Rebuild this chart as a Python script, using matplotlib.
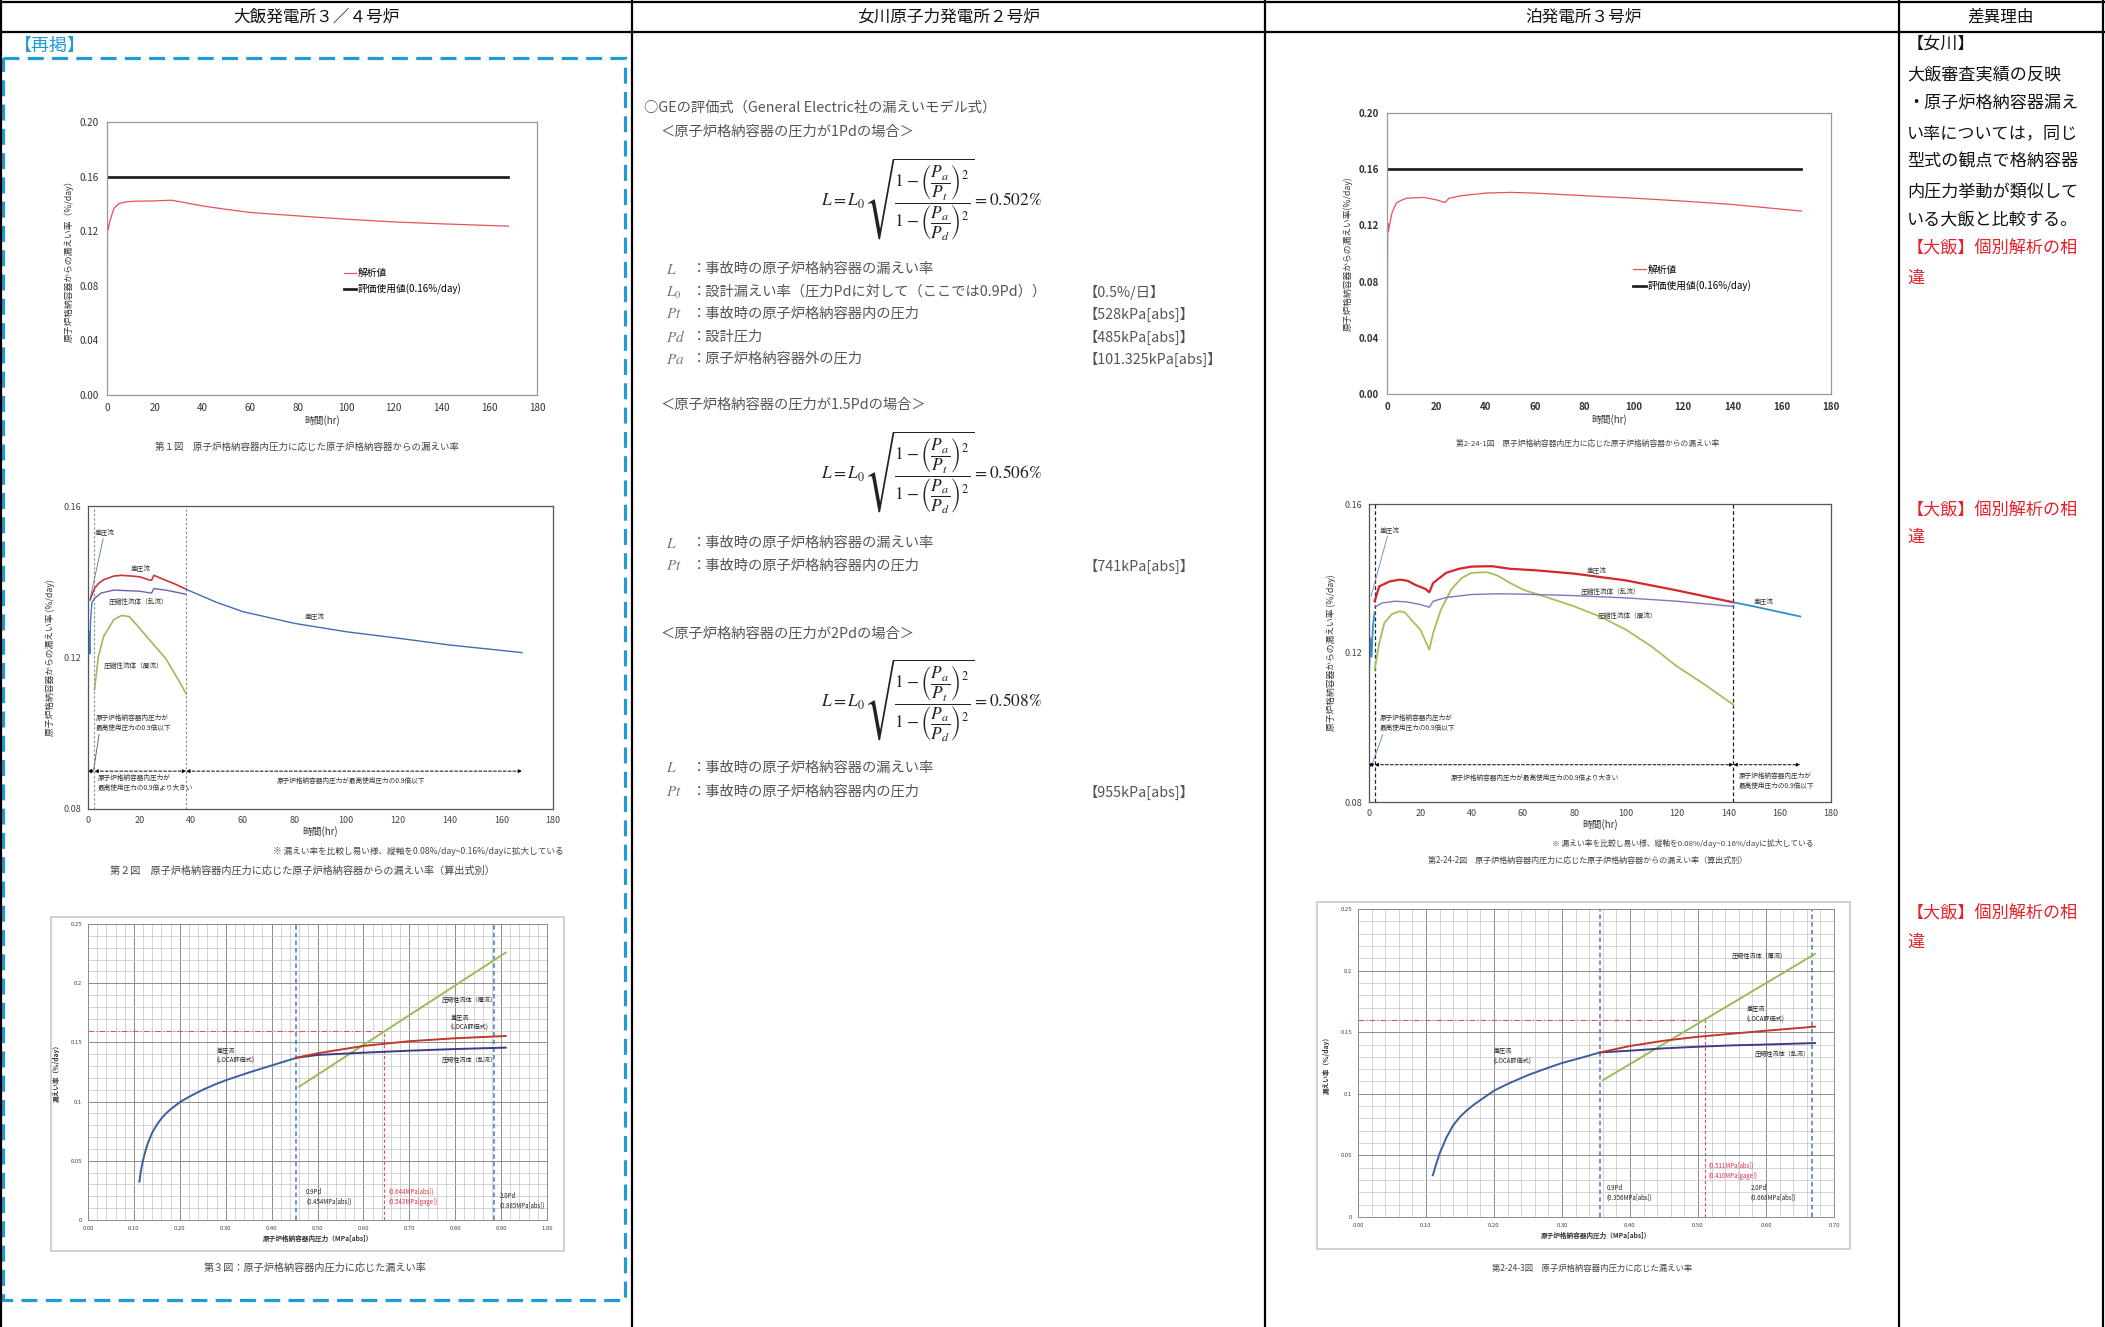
import numpy as np
import matplotlib
matplotlib.use("Agg")
import matplotlib.pyplot as plt
from matplotlib.patches import Rectangle

plt.rcParams['font.family'] = ['Noto Sans CJK JP', 'DejaVu Sans']
plt.rcParams['mathtext.fontset'] = 'stix'
plt.rcParams['axes.unicode_minus'] = False

# ---------------------------------------------------------------- data
headers = ['大飯発電所３／４号炉', '女川原子力発電所２号炉', '泊発電所３号炉', '差異理由']

# limit line (評価使用値)
limit_t = [0, 168]
limit_v = [0.16, 0.16]

# Ohi fig.1  analysis value vs time
ohi1_t = [0, 0.2, 0.5, 1.0, 2, 3, 5, 8, 12, 20, 27, 33, 40, 50, 60, 80, 100, 120, 140, 168]
ohi1_v = [0.0, 0.125, 0.121, 0.126, 0.132, 0.137, 0.1402, 0.1415, 0.142, 0.1422, 0.1427,
          0.1408, 0.1385, 0.136, 0.1337, 0.1312, 0.1288, 0.1268, 0.1254, 0.1237]

# Tomari fig.1
tom1_t = [0, 0.3, 0.6, 1, 2, 3, 4, 6, 8, 15, 20, 23.5, 25, 30, 40, 50, 60, 80, 100, 120, 140, 168]
tom1_v = [0.0, 0.1216, 0.1157, 0.120, 0.1287, 0.133, 0.1363, 0.138, 0.1394, 0.1399, 0.1382,
          0.1363, 0.1392, 0.1411, 0.143, 0.1435, 0.143, 0.1411, 0.1394, 0.1373, 0.1349, 0.1302]

# Ohi fig.2  leak rate by formula
ohi2_blue_a_t = [0, 0.15, 0.4, 0.7, 1.0, 1.5, 2.5]
ohi2_blue_a_v = [0.0, 0.122, 0.127, 0.121, 0.130, 0.1345, 0.1355]
ohi2_blue_b_t = [38, 50, 60, 80, 100, 120, 140, 168]
ohi2_blue_b_v = [0.138, 0.1345, 0.1321, 0.129, 0.1268, 0.1251, 0.1233, 0.1213]
ohi2_red_t = [0.8, 1.5, 2.5, 4, 6, 10, 13, 17, 20, 24, 24.6, 25.5, 30, 34, 38]
ohi2_red_v = [0.1352, 0.1365, 0.1382, 0.1395, 0.1405, 0.1415, 0.1417, 0.1415, 0.1413, 0.1404,
              0.1404, 0.1417, 0.1404, 0.1393, 0.138]
ohi2_pur_t = [2.5, 5, 10, 20, 24.6, 25.5, 30, 38]
ohi2_pur_v = [0.1356, 0.137, 0.1378, 0.1375, 0.137, 0.1382, 0.1378, 0.1367]
ohi2_grn_t = [2.5, 4, 6, 10, 13, 16, 20, 25, 30, 35, 38]
ohi2_grn_v = [0.1114, 0.1202, 0.1255, 0.130, 0.1311, 0.1308, 0.1277, 0.1237, 0.1198, 0.1141, 0.1104]
ohi2_phase = [0, 2.5, 38, 168]

# Tomari fig.2
tom2_blue_a_t = [0.0, 0.5, 1.0, 1.5, 2.2]
tom2_blue_a_v = [0.114, 0.124, 0.119, 0.127, 0.131]
tom2_blue_b_t = [142, 150, 160, 168]
tom2_blue_b_v = [0.1336, 0.1325, 0.131, 0.1298]
tom2_red_t = [2.2, 4, 8, 12, 15, 18, 22, 23.5, 25, 30, 35, 40, 48, 55, 65, 80, 100, 120, 142]
tom2_red_v = [0.1339, 0.1379, 0.1392, 0.1397, 0.1394, 0.1383, 0.1372, 0.1363, 0.1388, 0.1415,
              0.1426, 0.1432, 0.1433, 0.1426, 0.1422, 0.1413, 0.1395, 0.1368, 0.1336]
tom2_pur_t = [2.2, 5, 10, 15, 20, 23.5, 25, 30, 40, 50, 60, 80, 100, 120, 142]
tom2_pur_v = [0.1323, 0.1334, 0.1339, 0.1337, 0.1330, 0.1323, 0.1339, 0.1349, 0.1357, 0.1359,
              0.1358, 0.1354, 0.1348, 0.1339, 0.1325]
tom2_grn_t = [2.2, 4, 6, 9, 12, 14, 17, 20, 23.5, 25, 28, 32, 36, 40, 46, 50, 55, 60, 70, 80,
              90, 100, 110, 120, 130, 142]
tom2_grn_v = [0.1155, 0.1227, 0.1281, 0.1305, 0.1312, 0.1309, 0.1285, 0.1263, 0.1209, 0.1254,
              0.1316, 0.1370, 0.1401, 0.1415, 0.1417, 0.1408, 0.1388, 0.1370, 0.1348, 0.1325,
              0.1298, 0.1263, 0.1218, 0.1164, 0.1119, 0.1061]
tom2_phase = [0, 2.2, 142, 168]

# Ohi fig.3  leak rate vs pressure
ohi3_blue_p = [0.112, 0.115, 0.12, 0.125, 0.13, 0.14, 0.15, 0.16, 0.17, 0.18, 0.20, 0.22,
               0.25, 0.28, 0.30, 0.35, 0.40, 0.454]
ohi3_blue_v = [0.0324, 0.041, 0.0507, 0.058, 0.0645, 0.0738, 0.0805, 0.0858, 0.0900, 0.0935,
               0.0995, 0.104, 0.1100, 0.1150, 0.1180, 0.1245, 0.1305, 0.137]
ohi3_pur_p = [0.454, 0.5, 0.6, 0.7, 0.8, 0.91]
ohi3_pur_v = [0.137, 0.1394, 0.1413, 0.143, 0.1444, 0.1456]
ohi3_red_p = [0.454, 0.5, 0.6, 0.7, 0.8, 0.91]
ohi3_red_v = [0.137, 0.1408, 0.147, 0.151, 0.1535, 0.1554]
ohi3_grn_p = [0.46, 0.91]
ohi3_grn_v = [0.1126, 0.2258]
ohi3_pd = [0.454, 0.885]
ohi3_cross = 0.644

# Tomari fig.3
tom3_blue_p = [0.11, 0.115, 0.12, 0.125, 0.13, 0.14, 0.15, 0.16, 0.17, 0.18, 0.20, 0.22,
               0.25, 0.28, 0.30, 0.33, 0.356]
tom3_blue_v = [0.0339, 0.043, 0.0515, 0.058, 0.0645, 0.0745, 0.0813, 0.0865, 0.0910, 0.0949,
               0.1025, 0.1080, 0.1152, 0.1212, 0.1250, 0.1295, 0.1336]
tom3_pur_p = [0.356, 0.40, 0.45, 0.50, 0.55, 0.60, 0.672]
tom3_pur_v = [0.1336, 0.135, 0.1369, 0.1382, 0.1393, 0.140, 0.1412]
tom3_red_p = [0.356, 0.40, 0.45, 0.50, 0.55, 0.60, 0.672]
tom3_red_v = [0.1336, 0.1388, 0.1431, 0.1463, 0.1488, 0.1512, 0.1545]
tom3_grn_p = [0.36, 0.672]
tom3_grn_v = [0.111, 0.2135]
tom3_pd = [0.356, 0.668]
tom3_cross = 0.511

fig3_yticklabels = ['0', '0.05', '0.1', '0.15', '0.2', '0.25']

# ---------------------------------------------------------------- figure
W, H = 2105, 1327
fig = plt.figure(figsize=(W / 100, H / 100), dpi=100)
bg = fig.add_axes([0, 0, 1, 1])
bg.set_xlim(0, W)
bg.set_ylim(H, 0)
bg.axis('off')


def px_axes(x0, y0, x1, y1):
    return fig.add_axes([x0 / W, 1 - y1 / H, (x1 - x0) / W, (y1 - y0) / H])


# table frame
for x in [1, 632, 1265, 1899, 2103]:
    bg.plot([x, x], [0, H], color='k', lw=1.6)
for y in [1.5, 31.5]:
    bg.plot([0, W], [y, y], color='k', lw=1.6)
for cx, h in zip([316, 949, 1583, 2001], headers):
    bg.text(cx, 17, h, ha='center', va='center', fontsize=12, color='#111')

# blue dashed "再掲" box
bg.add_patch(Rectangle((3, 58), 622, 1242, fill=False, edgecolor='#1f9bd7', lw=2.3,
                       ls=(0, (5, 2.6))))
bg.text(14, 46, '【再掲】', ha='left', va='center', fontsize=13, color='#1f9bd7')

# ---------------------------------------------------------------- fig 1 style charts
def fig1(ax, t, v, ylabel, legend_anchor, bold=False):
    ax.plot(t, v, color='#e8505a', lw=0.9, label='解析値')
    ax.plot(limit_t, limit_v, color='#222222', lw=2.0, label='評価使用値(0.16%/day)')
    ax.set_xlim(0, 180)
    ax.set_ylim(0, 0.2)
    ax.set_xticks(np.arange(0, 181, 20))
    ax.set_yticks([0, 0.04, 0.08, 0.12, 0.16, 0.20])
    ax.yaxis.set_major_formatter('{x:.2f}')
    ax.tick_params(length=0, labelsize=7, colors='#333', pad=6)
    for s in ax.spines.values():
        s.set_color('#999')
        s.set_linewidth(0.9)
    ax.set_xlabel('時間(hr)', fontsize=7, labelpad=1, color='#333')
    ax.set_ylabel(ylabel, fontsize=6.3, labelpad=4, color='#333')
    ax.legend(loc='upper left', bbox_to_anchor=legend_anchor, frameon=False, fontsize=7,
              handlelength=1.3, handletextpad=0.2, labelspacing=0.6, borderaxespad=0,
              borderpad=0)
    if bold:
        for lab in ax.get_xticklabels() + ax.get_yticklabels():
            lab.set_fontweight('bold')


ax = px_axes(107, 122, 537, 395)
fig1(ax, ohi1_t, ohi1_v, '原子炉格納容器からの漏えい率（%/day）', (0.55, 0.465))
bg.text(307, 447, '第１図　原子炉格納容器内圧力に応じた原子炉格納容器からの漏えい率',
        ha='center', va='center', fontsize=6.8, color='#444')

ax = px_axes(1387, 113, 1831, 394)
fig1(ax, tom1_t, tom1_v, '原子炉格納容器からの漏えい率(%/day)', (0.555, 0.46), bold=True)
bg.text(1588, 444, '第2-24-1図　原子炉格納容器内圧力に応じた原子炉格納容器からの漏えい率',
        ha='center', va='center', fontsize=5.6, color='#444')

# ---------------------------------------------------------------- fig 2 style charts
def phase_arrows(ax, bounds, y):
    for a, b in zip(bounds[:-1], bounds[1:]):
        ax.annotate('', xy=(b, y), xytext=(a, y),
                    arrowprops=dict(arrowstyle='<|-|>', color='k', lw=0.7,
                                    ls=(0, (3, 2)), mutation_scale=5,
                                    shrinkA=0, shrinkB=0))


def fig2_axes(ax):
    ax.set_xlim(0, 180)
    ax.set_ylim(0.08, 0.16)
    ax.set_xticks(np.arange(0, 181, 20))
    ax.set_yticks([0.08, 0.12, 0.16])
    ax.yaxis.set_major_formatter('{x:.2f}')
    ax.tick_params(length=0, labelsize=6.5, colors='#444', pad=5)
    for s in ax.spines.values():
        s.set_color('#555')
        s.set_linewidth(0.9)
    ax.set_xlabel('時間(hr)', fontsize=7, labelpad=1, color='#333')
    ax.set_ylabel('原子炉格納容器からの漏えい率 (%/day)', fontsize=6.3, labelpad=6, color='#333')


lab_fs = 4.8
ax = px_axes(88, 506, 553, 809)
fig2_axes(ax)
for x in ohi2_phase[1:3]:
    ax.axvline(x, color='#888', lw=0.8, ls=(0, (2, 2)))
ax.plot(ohi2_grn_t, ohi2_grn_v, color='#9bbb59', lw=1.2)
ax.plot(ohi2_red_t, ohi2_red_v, color='#d0343a', lw=1.2)
ax.plot(ohi2_pur_t, ohi2_pur_v, color='#6a62b0', lw=1.0)
ax.plot(ohi2_blue_a_t, ohi2_blue_a_v, color='#3d7cc9', lw=1.0)
ax.plot(ohi2_blue_b_t, ohi2_blue_b_v, color='#3d6fb5', lw=1.0)
phase_arrows(ax, ohi2_phase, 0.090)
ax.annotate('差圧流', xy=(0.8, 0.1355), xytext=(2.6, 0.1532), fontsize=lab_fs, color='#333',
            va='center', arrowprops=dict(arrowstyle='-', lw=0.6, color='#5577aa',
                                         shrinkA=0, shrinkB=0))
ax.text(16.5, 0.1435, '差圧流', fontsize=lab_fs, color='#333', va='center')
ax.text(8, 0.1347, '圧縮性流体（乱流）', fontsize=lab_fs, color='#333', va='center')
ax.text(84, 0.131, '差圧流', fontsize=lab_fs, color='#333', va='center')
ax.text(6.2, 0.1178, '圧縮性流体（層流）', fontsize=lab_fs, color='#333', va='center')
ax.annotate('原子炉格納容器内圧力が\n最高使用圧力の0.9倍以下', xy=(2.2, 0.0904),
            xytext=(3, 0.1028), fontsize=lab_fs, color='#333', va='center',
            linespacing=1.3,
            arrowprops=dict(arrowstyle='-', lw=0.6, color='#555', shrinkA=0, shrinkB=0,
                            relpos=(0.05, 0)))
ax.text(3.7, 0.0868, '原子炉格納容器内圧力が\n最高使用圧力の0.9倍より大きい', fontsize=lab_fs,
        color='#333', va='center', linespacing=1.3)
ax.text(73, 0.0873, '原子炉格納容器内圧力が最高使用圧力の0.9倍以下', fontsize=lab_fs,
        color='#333', va='center')
bg.text(564, 851, '※ 漏えい率を比較し易い様、縦軸を0.08%/day~0.16%/dayに拡大している',
        ha='right', va='center', fontsize=6.2, color='#444')
bg.text(302, 871, '第２図　原子炉格納容器内圧力に応じた原子炉格納容器からの漏えい率（算出式別）',
        ha='center', va='center', fontsize=7.3, color='#444')

ax = px_axes(1369, 504, 1831, 802)
fig2_axes(ax)
for x in tom2_phase[1:3]:
    ax.axvline(x, color='#222', lw=0.9, ls=(0, (3, 2)))
ax.plot(tom2_grn_t, tom2_grn_v, color='#a4c05c', lw=1.3)
ax.plot(tom2_pur_t, tom2_pur_v, color='#7f77c0', lw=1.0)
ax.plot(tom2_red_t, tom2_red_v, color='#d4262c', lw=1.6)
ax.plot(tom2_blue_a_t, tom2_blue_a_v, color='#2f8fd0', lw=1.3)
ax.plot(tom2_blue_b_t, tom2_blue_b_v, color='#2f8fd0', lw=1.3)
phase_arrows(ax, tom2_phase, 0.090)
ax.annotate('差圧流', xy=(0.8, 0.1352), xytext=(4, 0.1531), fontsize=lab_fs, color='#333',
            va='center', arrowprops=dict(arrowstyle='-', lw=0.6, color='#5a8ac0',
                                         shrinkA=0, shrinkB=0))
ax.text(85, 0.1424, '差圧流', fontsize=lab_fs, color='#333', va='center')
ax.text(82.6, 0.1363, '圧縮性流体（乱流）', fontsize=lab_fs, color='#333', va='center')
ax.text(150, 0.1339, '差圧流', fontsize=lab_fs, color='#333', va='center')
ax.text(89, 0.1298, '圧縮性流体（層流）', fontsize=lab_fs, color='#333', va='center')
ax.annotate('原子炉格納容器内圧力が\n最高使用圧力の0.9倍以下', xy=(1.4, 0.0905),
            xytext=(4.3, 0.1013), fontsize=lab_fs, color='#333', va='center',
            linespacing=1.3,
            arrowprops=dict(arrowstyle='-', lw=0.6, color='#5a8ac0', shrinkA=0, shrinkB=0,
                            relpos=(0.05, 0)))
ax.text(32, 0.0864, '原子炉格納容器内圧力が最高使用圧力の0.9倍より大きい', fontsize=lab_fs,
        color='#333', va='center')
ax.text(144, 0.0857, '原子炉格納容器内圧力が\n最高使用圧力の0.9倍以下', fontsize=lab_fs,
        color='#333', va='center', linespacing=1.3)
bg.text(1814, 843, '※ 漏えい率を比較し易い様、縦軸を0.08%/day~0.16%/dayに拡大している',
        ha='right', va='center', fontsize=5.6, color='#444')
bg.text(1588, 860, '第2-24-2図　原子炉格納容器内圧力に応じた原子炉格納容器からの漏えい率（算出式別）',
        ha='center', va='center', fontsize=5.8, color='#444')

# ---------------------------------------------------------------- fig 3 style charts
def fig3(ax, xmax, blue, pur, red, grn, pd, cross, texts):
    ax.set_xlim(0, xmax)
    ax.set_ylim(0, 0.25)
    ax.set_xticks(np.arange(0, xmax + 1e-9, 0.1))
    ax.set_xticks(np.arange(0, xmax + 1e-9, 0.02), minor=True)
    ax.set_yticks(np.arange(0, 0.2501, 0.05))
    ax.set_yticks(np.arange(0, 0.2501, 0.01), minor=True)
    ax.set_yticklabels(fig3_yticklabels)
    ax.xaxis.set_major_formatter('{x:.2f}')
    ax.set_axisbelow(True)
    ax.grid(which='major', color='#8c8c8c', lw=0.7)
    ax.grid(which='minor', color='#c4c4c4', lw=0.5)
    ax.tick_params(which='both', length=0, labelsize=4.3, colors='#444', pad=4)
    for s in ax.spines.values():
        s.set_color('#8c8c8c')
        s.set_linewidth(0.7)
    ax.set_xlabel('原子炉格納容器内圧力（MPa[abs]）', fontsize=4.8, fontweight='bold',
                  labelpad=3, color='#333')
    ax.set_ylabel('漏えい率（%/day）', fontsize=4.8, fontweight='bold', labelpad=8,
                  color='#333')
    for x in pd:
        ax.axvline(x, color='#4a78c8', lw=1.1, ls=(0, (3, 2)))
    ax.plot([0, cross], [0.16, 0.16], color='#e0506a', lw=0.8, ls=(0, (5, 2, 1, 2)))
    ax.plot([cross, cross], [0, 0.16], color='#e0506a', lw=0.8, ls=(0, (3, 2)))
    ax.plot(blue[0], blue[1], color='#3b5fa0', lw=1.4)
    ax.plot(grn[0], grn[1], color='#9bbb59', lw=1.4)
    ax.plot(pur[0], pur[1], color='#3f3c86', lw=1.4)
    ax.plot(red[0], red[1], color='#c0392b', lw=1.4)
    for (x, y, s, c) in texts:
        ax.text(x, y, s, fontsize=4.4, color=c, va='center', linespacing=1.3)


bg.add_patch(Rectangle((51, 917), 513, 334, fill=False, edgecolor='#c8c8c8', lw=1.2))
ax = px_axes(88, 924, 547, 1220)
fig3(ax, 1.0, (ohi3_blue_p, ohi3_blue_v), (ohi3_pur_p, ohi3_pur_v),
     (ohi3_red_p, ohi3_red_v), (ohi3_grn_p, ohi3_grn_v), ohi3_pd, ohi3_cross,
     [(0.77, 0.186, '圧縮性流体（層流）', '#222'),
      (0.79, 0.1665, '差圧流\n(LOCA評価式)', '#222'),
      (0.77, 0.1355, '圧縮性流体（乱流）', '#222'),
      (0.28, 0.1385, '差圧流\n(LOCA評価式)', '#222'),
      (0.475, 0.0195, '0.9Pd\n(0.454MPa[abs])', '#222'),
      (0.655, 0.0195, '(0.644MPa[abs])\n(0.543MPa[gage])', '#e0304a'),
      (0.897, 0.0165, '2.0Pd\n(0.885MPa[abs])', '#222')])
bg.text(315, 1268, '第３図：原子炉格納容器内圧力に応じた漏えい率', ha='center', va='center',
        fontsize=7.3, color='#444')

bg.add_patch(Rectangle((1317, 902), 533, 347, fill=False, edgecolor='#c8c8c8', lw=1.2))
ax = px_axes(1358, 909, 1834, 1217)
fig3(ax, 0.70, (tom3_blue_p, tom3_blue_v), (tom3_pur_p, tom3_pur_v),
     (tom3_red_p, tom3_red_v), (tom3_grn_p, tom3_grn_v), tom3_pd, tom3_cross,
     [(0.55, 0.212, '圧縮性流体（層流）', '#222'),
      (0.572, 0.1645, '差圧流\n(LOCA評価式)', '#222'),
      (0.583, 0.132, '圧縮性流体（乱流）', '#222'),
      (0.20, 0.1305, '差圧流\n(LOCA評価式)', '#222'),
      (0.366, 0.0195, '0.9Pd\n(0.356MPa[abs])', '#222'),
      (0.515, 0.0375, '(0.511MPa[abs])\n(0.410MPa[gage])', '#e0304a'),
      (0.577, 0.0195, '2.0Pd\n(0.668MPa[abs])', '#222')])
bg.text(1592, 1268, '第2-24-3図　原子炉格納容器内圧力に応じた漏えい率', ha='center', va='center',
        fontsize=6.0, color='#444')

# ---------------------------------------------------------------- middle column (Onagawa)
mid_c = '#555555'
bg.text(644, 108, '○GEの評価式（General Electric社の漏えいモデル式）', ha='left', va='center',
        fontsize=10.3, color=mid_c)

formula = (r'$L=L_0\sqrt{\dfrac{1-\left(\dfrac{P_a}{P_t}\right)^2}'
           r'{1-\left(\dfrac{P_a}{P_d}\right)^2}}=%s\%%$')

sections = [
    (132, '＜原子炉格納容器の圧力が1Pdの場合＞', 200, '0.502',
     [(269, r'$L$', '：事故時の原子炉格納容器の漏えい率', ''),
      (292, r'$L_0$', '：設計漏えい率（圧力Pdに対して（ここでは0.9Pd））', '【0.5%/日】'),
      (314, r'$Pt$', '：事故時の原子炉格納容器内の圧力', '【528kPa[abs]】'),
      (337, r'$Pd$', '：設計圧力', '【485kPa[abs]】'),
      (359, r'$Pa$', '：原子炉格納容器外の圧力', '【101.325kPa[abs]】')]),
    (405, '＜原子炉格納容器の圧力が1.5Pdの場合＞', 473, '0.506',
     [(543, r'$L$', '：事故時の原子炉格納容器の漏えい率', ''),
      (566, r'$Pt$', '：事故時の原子炉格納容器内の圧力', '【741kPa[abs]】')]),
    (634, '＜原子炉格納容器の圧力が2Pdの場合＞', 701, '0.508',
     [(768, r'$L$', '：事故時の原子炉格納容器の漏えい率', ''),
      (792, r'$Pt$', '：事故時の原子炉格納容器内の圧力', '【955kPa[abs]】')]),
]
for hy, htxt, fy, val, defs in sections:
    bg.text(661, hy, htxt, ha='left', va='center', fontsize=10.3, color=mid_c)
    bg.text(932, fy, formula % val, ha='center', va='center', fontsize=12.5, color='#222')
    for y, sym, desc, br in defs:
        bg.text(666, y, sym, ha='left', va='center', fontsize=11, color='#777')
        bg.text(692, y, desc, ha='left', va='center', fontsize=10.3, color=mid_c)
        if br:
            bg.text(1083, y, br, ha='left', va='center', fontsize=10.3, color=mid_c)

# ---------------------------------------------------------------- reason column
reason_lines = [(44, '【女川】', '#111'),
                (74, '大飯審査実績の反映', '#111'),
                (103, '・原子炉格納容器漏え', '#111'),
                (133, 'い率については，同じ', '#111'),
                (162, '型式の観点で格納容器', '#111'),
                (192, '内圧力挙動が類似して', '#111'),
                (219, 'いる大飯と比較する。', '#111'),
                (248, '【大飯】個別解析の相', '#e8202a'),
                (278, '違', '#e8202a'),
                (510, '【大飯】個別解析の相', '#e8202a'),
                (537, '違', '#e8202a'),
                (913, '【大飯】個別解析の相', '#e8202a'),
                (942, '違', '#e8202a')]
for y, s, c in reason_lines:
    bg.text(1907, y, s, ha='left', va='center', fontsize=12.3, color=c)

fig.savefig('out.png', dpi=100)
